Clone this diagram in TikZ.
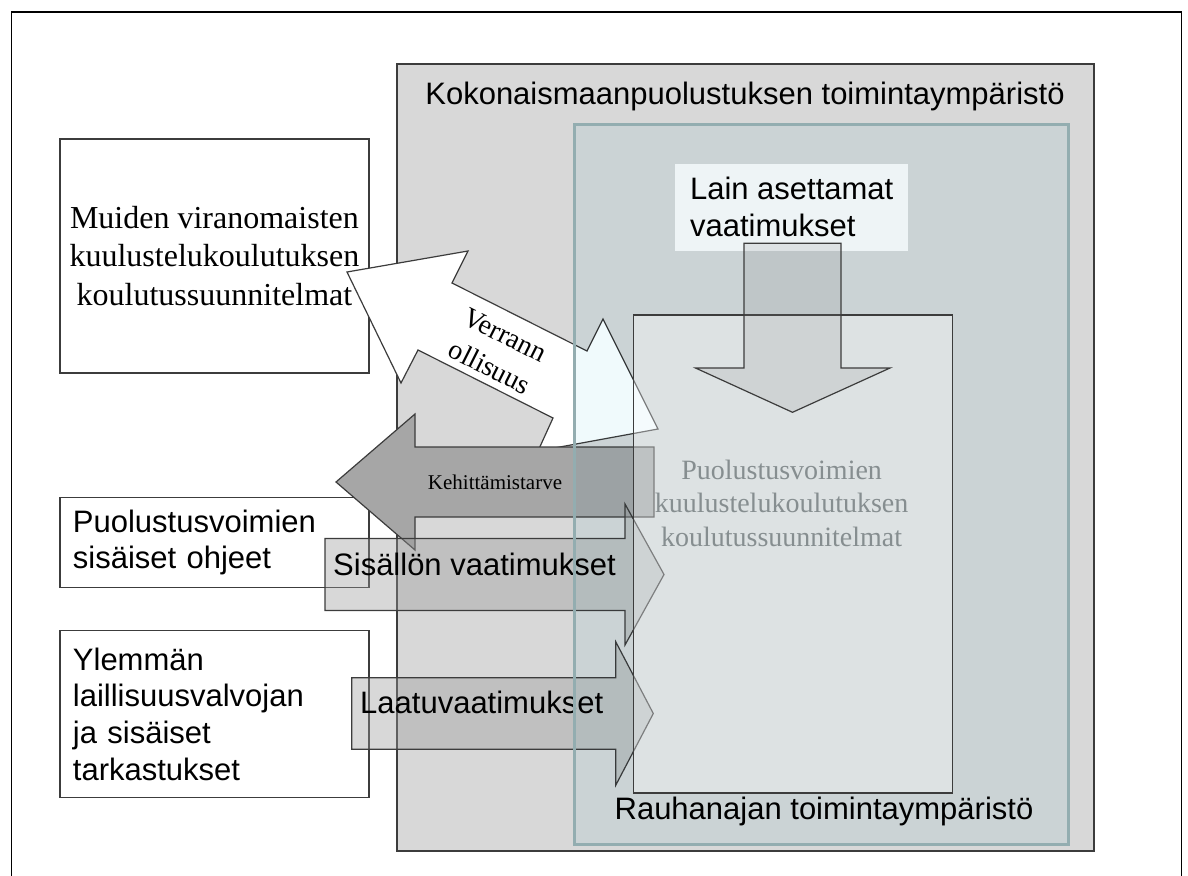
\documentclass[tikz,border=0pt]{standalone}
\usepackage{fontspec}
\setmainfont{Liberation Serif}
\setsansfont{Liberation Sans}
\usepackage{tikz}
\usetikzlibrary{calc}

\definecolor{ympharmaa}{HTML}{D8D8D8}
\definecolor{rauhasavy}{HTML}{F0FAFC}
\definecolor{rauhareuna}{HTML}{93ADB0}
\definecolor{lainpohja}{HTML}{EEF4F6}
\definecolor{viiva}{HTML}{3C3C3C}
\definecolor{kehharmaa}{HTML}{A6A6A6}
\definecolor{vaalateksti}{HTML}{868E90}

\begin{document}
\begin{tikzpicture}[x=1pt,y=-1pt,
  laatikko/.style={draw=viiva,line width=1.3pt,fill=white,inner xsep=13pt,inner ysep=3pt},
  sans/.style={font=\sffamily\fontsize{31}{36.7}\selectfont},
  serif/.style={font=\rmfamily\fontsize{32}{38.4}\selectfont},
  teksti/.style={inner sep=0pt},
  nuoli/.style={draw=viiva,line width=1.2pt,fill=black!40,fill opacity=0.38}]
  \useasboundingbox (0,0) rectangle (1188,875);
  \clip (0,0) rectangle (1188,875);
  \draw[line width=1.6pt] (11.5,12.3) rectangle (1181.5,900);
  % kokonaismaanpuolustus
  \node[draw=viiva,line width=2pt,fill=ympharmaa,anchor=north west,minimum width=697pt,minimum height=786.7pt,inner sep=0pt] (koko) at (396,63.3) {};
  \node[teksti,sans] (kokoteksti) at (745,96) {Kokonaismaanpuolustuksen toimintaympäristö};
  % vasemman reunan laatikot
  \node[laatikko,serif,anchor=north west,minimum width=309pt,minimum height=234pt,inner xsep=2pt,align=center] (muut) at (59.3,138.3) {Muiden viranomaisten\\kuulustelukoulutuksen\\koulutussuunnitelmat};
  \node[laatikko,sans,anchor=north west,minimum height=90pt,text width=283pt,align=left] (ohjeet) at (59.3,496.7) {Puolustusvoimien\\sisäiset ohjeet};
  \node[laatikko,sans,anchor=north west,minimum height=166.7pt,text width=283pt,align=left] (ylempi) at (59.3,630) {Ylemmän\\laillisuusvalvojan\\ja sisäiset\\tarkastukset};
  % nuolet
  \draw[draw=viiva,line width=1.2pt,fill=white] (347,272) -- (468,251) -- (452,283) -- (587,351) -- (603,319) -- (658,429) -- (538,451) -- (553,418) -- (418,350) -- (401,383) -- cycle;
  \node[teksti,font=\rmfamily\fontsize{28}{35}\selectfont,rotate=-26.8] (verrann) at (505,335) {Verrann};
  \node[teksti,font=\rmfamily\fontsize{28}{35}\selectfont,rotate=-26.8] (ollisuus) at (490,367) {ollisuus};
  \draw[draw=viiva,line width=1.2pt,fill=kehharmaa] (336,482) -- (415,414) -- (415,447) -- (654,447) -- (654,517) -- (415,517) -- (415,550) -- cycle;
  \node[teksti,font=\rmfamily\fontsize{21}{25}\selectfont] (kehitys) at (495,482) {Kehittämistarve};
  \draw[nuoli] (325,538.5) -- (625,538.5) -- (625,504) -- (664,574.5) -- (625,645) -- (625,610.5) -- (325,610.5) -- cycle;
  \node[teksti,sans,anchor=west] (sisalto) at (333,564) {Sisällön vaatimukset};
  \draw[nuoli] (351.7,677.7) -- (615.7,677.7) -- (615.7,641.7) -- (653.3,713.5) -- (615.7,785.3) -- (615.7,749.3) -- (351.7,749.3) -- cycle;
  \node[teksti,sans,anchor=west] (laatu) at (360,702) {Laatuvaatimukset};
  % rauhanajan toimintaympäristö
  \begin{scope}[blend mode=multiply]
    \fill[rauhasavy] (573,123.3) rectangle (1067,843.3);
  \end{scope}
  \node[draw=rauhareuna,line width=3pt,anchor=north west,minimum width=494pt,minimum height=720pt,inner sep=0pt] (rauha) at (573,123.3) {};
  \node[draw=viiva,line width=1.3pt,fill=white,fill opacity=0.35,anchor=north west,minimum width=319pt,minimum height=478pt,inner sep=0pt] (puolustus) at (633,314.3) {};
  \node[teksti,font=\rmfamily\fontsize{28}{33.3}\selectfont,text=vaalateksti,align=center] (suunnitelmat) at (781.6,503.3) {Puolustusvoimien\\kuulustelukoulutuksen\\koulutussuunnitelmat};
  \node[fill=lainpohja,sans,anchor=north west,minimum width=233pt,minimum height=87.4pt,inner sep=0pt,align=left] (laki) at (675,163.3) {Lain asettamat\\vaatimukset};
  \draw[draw=viiva,line width=1.2pt,fill=black!50,fill opacity=0.15] (744,243.3) -- (841,243.3) -- (841,368) -- (890,368) -- (792.5,412.3) -- (695.5,368) -- (744,368) -- cycle;
  \node[teksti,sans] (rauhateksti) at (824,811.7) {Rauhanajan toimintaympäristö};
\end{tikzpicture}
\end{document}
